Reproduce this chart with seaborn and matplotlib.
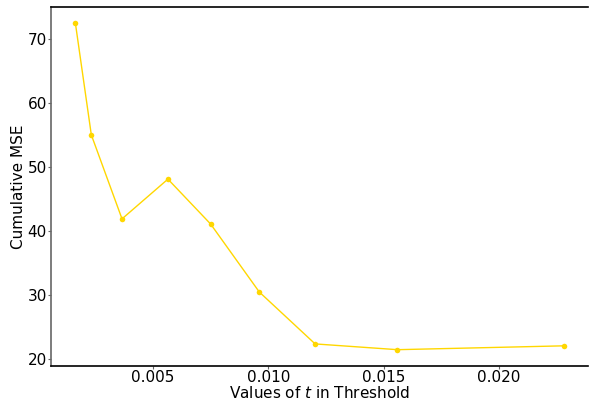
import matplotlib
matplotlib.use("Agg")
import matplotlib.pyplot as plt
import seaborn as sns
import pandas as pd

thresholds = [0.00164, 0.00233, 0.00366, 0.00565, 0.0075, 0.00961, 0.01203, 0.0156, 0.0228]
cumulative_mse = [72.4, 55.0, 41.9, 48.1, 41.1, 30.5, 22.4, 21.5, 22.1]

df = pd.DataFrame({"t": thresholds, "mse": cumulative_mse})

sns.set_style("white")
plt.rcParams['font.family'] = ['DejaVu Sans']
plt.rcParams['text.color'] = 'black'
plt.rcParams['axes.labelcolor'] = 'black'
plt.rcParams['xtick.color'] = '#666666'
plt.rcParams['ytick.color'] = '#666666'
plt.rcParams['xtick.labelcolor'] = 'black'
plt.rcParams['ytick.labelcolor'] = 'black'

fig = plt.figure(figsize=(5.89, 4.0), dpi=100)
ax = fig.add_axes([51/589, 34/400, (588-51)/589, (366-7)/400])

sns.lineplot(data=df, x="t", y="mse", ax=ax, color="#FFD700", marker="o",
             markersize=4, markeredgewidth=0, linewidth=1)

ax.set_xlabel("Values of $t$ in Threshold", fontsize=11, labelpad=0)
ax.set_ylabel("Cumulative MSE", fontsize=11, labelpad=1)
ax.tick_params(axis="both", labelsize=11)
ax.tick_params(axis="y", left=True, length=2, width=0.8, pad=1)
ax.tick_params(axis="x", bottom=True, length=2, width=0.8, pad=1)
ax.set_xticks([0.005, 0.010, 0.015, 0.020])
ax.set_yticks([20, 30, 40, 50, 60, 70])

for s in ["top", "bottom"]:
    ax.spines[s].set_color("black")
    ax.spines[s].set_linewidth(1.2)
ax.spines["left"].set_color("#666666")
ax.spines["left"].set_linewidth(1.2)
ax.spines["right"].set_visible(False)

fig.savefig("out.png", dpi=100)
